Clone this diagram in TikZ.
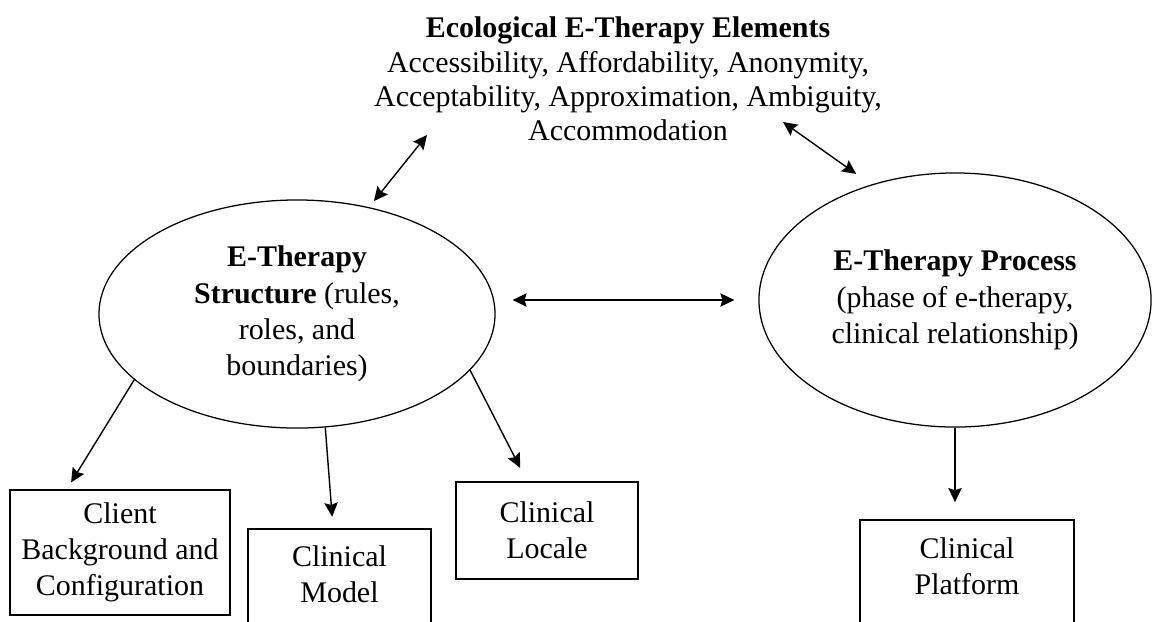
\documentclass[tikz,border=0pt]{standalone}
\usepackage{fontspec}
\setmainfont{Liberation Serif}
\usetikzlibrary{shapes.geometric,arrows.meta}
\begin{document}
\begin{tikzpicture}[x=0.025cm, y=-0.025cm,
        >={Stealth[length=10pt,width=9.5pt,inset=1.5pt]},
        every node/.style={font=\fontsize{21.3}{25.8}\selectfont, align=center},
        oval/.style={draw, ellipse, line width=0.9pt, inner sep=0pt},
        box/.style={draw, rectangle, line width=1.1pt},
        link/.style={line width=1pt}]
    \useasboundingbox (0,0) rectangle (1154,621);
    \clip (0,0) rectangle (1154,621);
    \node[font=\fontsize{21.3}{24.5}\selectfont] (elements) at (628,79)
        {\textbf{Ecological E-Therapy Elements}\\Accessibility, Affordability, Anonymity,\\Acceptability, Approximation, Ambiguity,\\Accommodation};
    \node[oval, minimum width=9.9cm, minimum height=5.7cm] (structure) at (297,314)
        {\textbf{E-Therapy}\\\textbf{Structure} (rules,\\roles, and\\boundaries)};
    \node[oval, minimum width=9.8cm, minimum height=6.35cm] (process) at (955,300)
        {\textbf{E-Therapy Process}\\(phase of e-therapy,\\clinical relationship)};
    \node[box, minimum width=5.5cm, minimum height=3.125cm] (client) at (120,552.5) {Client\\Background and\\Configuration};
    \node[box, minimum width=4.575cm, inner ysep=12pt, anchor=north] (model) at (339.5,528) {Clinical\\Model\\\strut};
    \node[box, minimum width=4.55cm, minimum height=2.425cm] (locale) at (547,530.5) {Clinical\\Locale};
    \node[box, minimum width=5.35cm, inner ysep=12.7pt, anchor=north] (platform) at (967,519) {Clinical\\Platform\\\strut};
    \coordinate (eleft) at (427,135);
    \coordinate (eright) at (783,122);
    \draw[link, <->, shorten <=5.5pt] (structure.56) -- (eleft);
    \draw[link, <->, shorten >=13pt] (eright) -- (process.126);
    \draw[link, <->, shorten <=12pt, shorten >=17pt] (structure.east |- process.west) -- (process.west);
    \draw[link, ->, shorten >=5.7pt] (structure.202) -- (client.130);
    \draw[link, ->, shorten >=8pt] (structure.284) -- ([xshift=-4.6pt]model.north);
    \draw[link, ->, shorten >=10.7pt] (structure.342) -- (locale.112);
    \draw[link, ->, shorten >=12pt] (process.south) -- (process.south |- platform.north);
\end{tikzpicture}
\end{document}
